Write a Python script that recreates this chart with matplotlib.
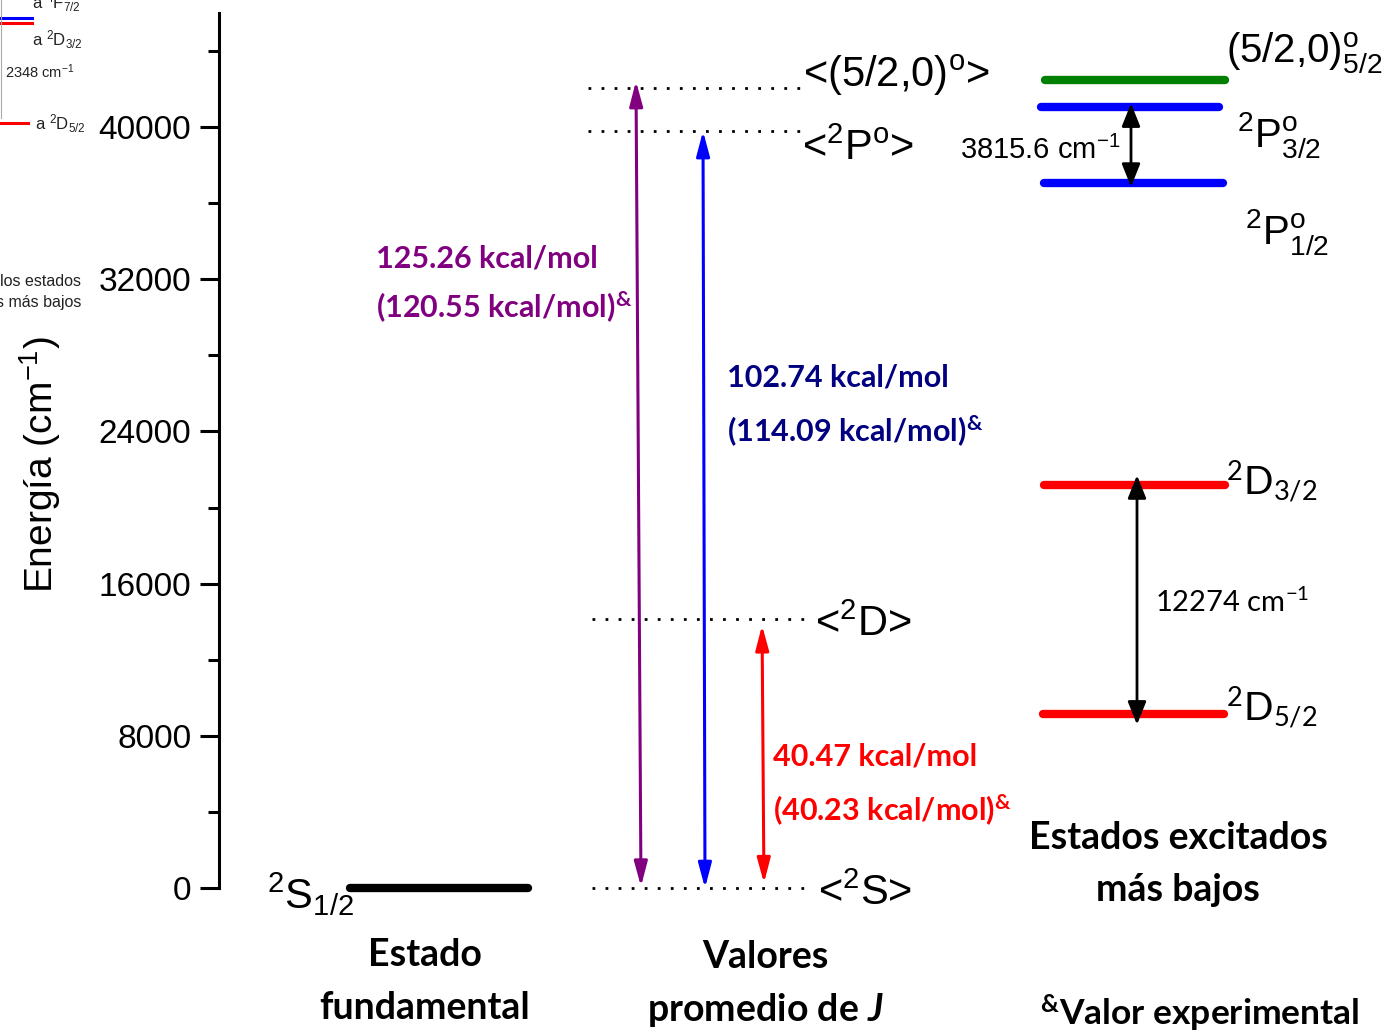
import matplotlib
matplotlib.use("Agg")
import matplotlib.pyplot as plt
from matplotlib import font_manager as fm
from matplotlib.ticker import MultipleLocator

# ---------------- data (energies in cm^-1) ----------------
ground_label = r"$\mathregular{^2S_{1/2}}$"
ground_energy = 0

avg_labels = ["<$\\mathregular{^2}$S>", "<$\\mathregular{^2}$D>",
              "<$\\mathregular{^2}$P$\\mathregular{^o}$>", "<(5/2,0)$\\mathregular{^o}$>"]
avg_energy = [0, 14140, 39790, 42050]

exc_labels = [r"$\mathregular{^2D_{5/2}}$", r"$\mathregular{^2D_{3/2}}$",
              r"$\mathregular{^2P^o_{1/2}}$", r"$\mathregular{^2P^o_{3/2}}$",
              r"(5/2,0)$\mathregular{^o_{5/2}}$"]
exc_energy = [9146, 21180, 37060, 41050, 42470]
exc_colors = ["#ff0000", "#ff0000", "#0000ff", "#0000ff", "#008000"]

kcal_calc = ["40.47", "102.74", "125.26"]
kcal_exp = ["40.23", "114.09", "120.55"]
trans_colors = ["#ff0000", "#0000ff", "#800080"]
trans_text_colors = ["#ff0000", "#000080", "#800080"]

split_labels = ["12274 cm$\\mathregular{^{-1}}$", "3815.6 cm$\\mathregular{^{-1}}$"]

y_ticks = [0, 8000, 16000, 24000, 32000, 40000]

# ---------------- fonts ----------------
names = {f.name for f in fm.fontManager.ttflist}
NARROW = "Liberation Sans Narrow" if "Liberation Sans Narrow" in names else "Liberation Sans"
nscale = 1.18 if NARROW == "Liberation Sans Narrow" else 1.0
SANS = "Liberation Sans"
CAL = "Lato"

plt.rcParams["font.family"] = [SANS, "DejaVu Sans"]
plt.rcParams["mathtext.fontset"] = "custom"
plt.rcParams["mathtext.rm"] = SANS
plt.rcParams["mathtext.it"] = "Lato:italic:bold"
plt.rcParams["mathtext.bf"] = "Lato:bold"

W, H = 1385, 1032
fig = plt.figure(figsize=(W / 100, H / 100), dpi=100)
ax = fig.add_axes([219 / W, (H - 888) / H, (W - 219) / W, (888 - 13) / H])
ax.set_xlim(219, 1385)
ax.set_ylim(0, 46000)
for s in ["top", "right", "bottom"]:
    ax.spines[s].set_visible(False)
ax.spines["left"].set_linewidth(2.2)
ax.set_xticks([])
ax.set_yticks(y_ticks)
ax.yaxis.set_minor_locator(MultipleLocator(4000))
ax.tick_params(axis="y", which="major", length=14, width=2.2, labelsize=24, pad=6)
ax.tick_params(axis="y", which="minor", length=8, width=2.2)
for t in ax.get_yticklabels():
    t.set_fontfamily(SANS)


def fx(px):
    return px / W


def fy(py):
    return 1 - py / H


# y label
fig.text(fx(40), fy(465), "Energía (cm$\\mathregular{^{-1}}$)", rotation=90,
         ha="center", va="center", fontsize=28, family=SANS)

# ---------------- ground state ----------------
ax.plot([350, 528], [ground_energy, ground_energy], color="black", lw=6,
        solid_capstyle="round", clip_on=False)
ax.text(267, ground_energy - 350, ground_label, fontsize=30, ha="left", va="center",
        family=SANS)

# ---------------- averaged levels (dotted) ----------------
dot_x = [(592, 808), (592, 805), (588, 800), (588, 800)]
lab_x = [818, 815, 802, 803]
lab_dy = [-300, -300, -950, 680]
for (x0, x1), lx, dy, e, lab in zip(dot_x, lab_x, lab_dy, avg_energy, avg_labels):
    ax.plot([x0, x1], [e, e], color="black", lw=2.0, linestyle=(0, (1, 3.7)),
            clip_on=False)
    ax.text(lx, e + dy, lab, fontsize=30 * nscale, ha="left", va="center",
            family=NARROW)

# ---------------- transitions from <2S> ----------------
arrow_x = [(764, 762), (705, 703), (641, 636)]
shr = [(3.5, 4.5), (0, 0), (1, 0)]
overhang = [0, 0, 370]          # extra length above the upper level (layout)
for (xb, xt), (sa, sb), oh, e_top, c in zip(arrow_x, shr, overhang, avg_energy[1:],
                                             trans_colors):
    ax.annotate("", xy=(xt, e_top + oh), xytext=(xb, avg_energy[0]),
                arrowprops=dict(arrowstyle="<|-|>,head_length=0.75,head_width=0.2",
                                color=c, lw=2.2, shrinkA=sa, shrinkB=sb,
                                mutation_scale=20))

txt_pos = [(773, 6938, 4100), (727, 26859, 24021), (376, 33114, 30540)]
for (x, y1, y2), a, b, c in zip(txt_pos, kcal_calc, kcal_exp, trans_text_colors):
    ax.text(x, y1, f"{a} kcal/mol", color=c, fontsize=22, fontweight="bold",
            family=CAL, ha="left", va="center")
    ax.text(x, y2, f"({b} kcal/mol)$\\mathregular{{^&}}$", color=c, fontsize=22,
            fontweight="bold", family=CAL, ha="left", va="center")

# ---------------- excited states ----------------
exc_x = [(1043, 1224), (1044, 1225), (1044, 1223), (1041, 1219), (1045, 1225)]
for (x0, x1), e, c in zip(exc_x, exc_energy, exc_colors):
    ax.plot([x0, x1], [e, e], color=c, lw=6, solid_capstyle="round", clip_on=False)

# labels of excited states
ax.text(1226, exc_energy[0] + 300, exc_labels[0], fontsize=28, family=CAL,
        ha="left", va="center")
ax.text(1226, exc_energy[1] + 140, exc_labels[1], fontsize=28, family=CAL,
        ha="left", va="center")
ax.text(1245, exc_energy[2] - 2550, exc_labels[2], fontsize=29 * nscale, family=NARROW,
        ha="left", va="center")
ax.text(1237, exc_energy[3] - 1450, exc_labels[3], fontsize=29 * nscale, family=NARROW,
        ha="left", va="center")
ax.text(1226, exc_energy[4] + 1400, exc_labels[4], fontsize=29 * nscale, family=NARROW,
        ha="left", va="center", clip_on=False)

# splittings (arrows reach slightly past the level lines)
ax.annotate("", xy=(1137, exc_energy[1] + 520), xytext=(1137, exc_energy[0] - 560),
            arrowprops=dict(arrowstyle="<|-|>,head_length=0.7,head_width=0.28",
                            color="black", lw=2.0, shrinkA=0, shrinkB=0,
                            mutation_scale=20))
ax.text(1155, 15033, split_labels[0], fontsize=21, family=CAL, ha="left", va="center")
ax.annotate("", xy=(1131, exc_energy[3] + 200), xytext=(1131, exc_energy[2] - 200),
            arrowprops=dict(arrowstyle="<|-|>,head_length=0.7,head_width=0.28",
                            color="black", lw=2.0, shrinkA=0, shrinkB=0,
                            mutation_scale=20))
ax.text(960, 38791, split_labels[1], fontsize=21 * nscale, family=NARROW,
        ha="left", va="center")

# ---------------- column captions ----------------
cap = dict(fontsize=27, fontweight="bold", family=CAL, ha="center", va="center")
ax.text(425, -3522, "Estado", **cap)
ax.text(425, -6307, "fundamental", **cap)
ax.text(765, -3627, "Valores", **cap)
ax.text(765, -6413, r"promedio de $\mathit{J}$", **cap)
ax.text(1178, 2628, "Estados excitados", **cap)
ax.text(1178, -105, "más bajos", **cap)
cap2 = dict(cap, fontsize=25.5)
ax.text(1200, -6600, "$\\mathregular{^&}$Valor experimental", **cap2)

# ---------------- fragments of the neighbouring figure (top-left) ----------------
small = dict(family=SANS, color="#222222")
fig.add_artist(plt.Line2D([fx(0), fx(28)], [fy(123), fy(123)], color="#ff0000", lw=2.2))
fig.add_artist(plt.Line2D([fx(0), fx(32)], [fy(18), fy(18)], color="#0000ff", lw=2.2))
fig.add_artist(plt.Line2D([fx(0), fx(32)], [fy(22.5), fy(22.5)], color="#ff0000", lw=2.2))
fig.add_artist(plt.Line2D([fx(1), fx(1)], [fy(0), fy(118)], color="#aaaaaa", lw=0.8))
fig.text(fx(35), fy(124), r"a $\mathregular{^2D_{5/2}}$", fontsize=12, ha="left",
         va="center", **small)
fig.text(fx(32), fy(40), r"a $\mathregular{^2D_{3/2}}$", fontsize=12, ha="left",
         va="center", **small)
fig.text(fx(32), fy(3), r"a $\mathregular{^4F_{7/2}}$", fontsize=12, ha="left",
         va="center", **small)
fig.text(fx(5), fy(72), "2348 cm$\\mathregular{^{-1}}$", fontsize=10.5, ha="left",
         va="center", **small)
fig.text(fx(81), fy(281), "los estados", fontsize=11.5, ha="right", va="center", **small)
fig.text(fx(81), fy(302), "s más bajos", fontsize=11.5, ha="right", va="center", **small)

fig.savefig("out.png", dpi=100)
